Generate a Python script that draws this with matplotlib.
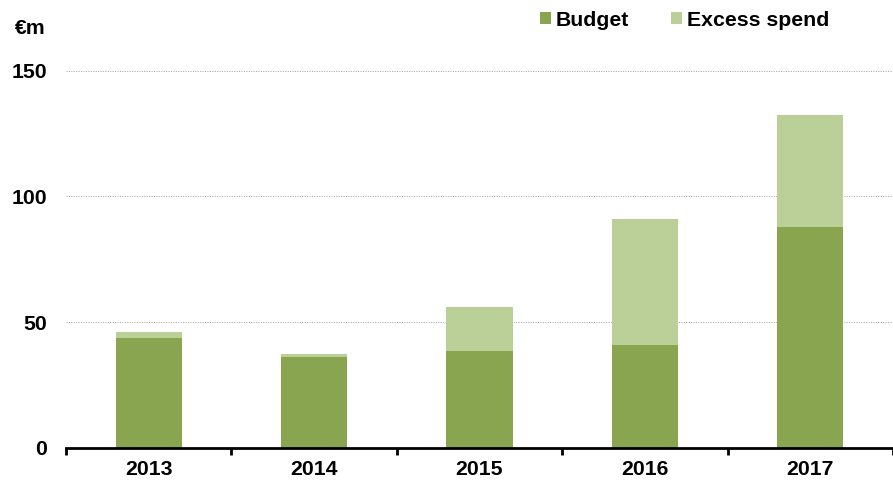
import matplotlib
matplotlib.use("Agg")
import matplotlib.pyplot as plt
import numpy as np

years = ["2013", "2014", "2015", "2016", "2017"]
budget = [43.6, 35.9, 38.6, 41.0, 88.0]
excess = [2.5, 1.4, 17.3, 50.1, 44.2]
yticks = [0, 50, 100, 150]

c_budget = "#8aa54f"
c_excess = "#bbcf98"

plt.rcParams["font.family"] = ["Liberation Sans", "DejaVu Sans"]
plt.rcParams["font.weight"] = "bold"
FS = 15.3

fig = plt.figure(figsize=(8.93, 4.86), dpi=100)
ax = fig.add_axes([66/893, 1-447.7/486, 1-66/893, (447.7-70.7)/486])

x = np.arange(len(years))
ax.bar(x, budget, width=0.4, color=c_budget, label="Budget", zorder=3)
ax.bar(x, excess, width=0.4, bottom=budget, color=c_excess, label="Excess spend", zorder=3)

ax.set_xlim(-0.5, len(years) - 0.5)
ax.set_ylim(0, 150)
ax.set_yticks(yticks)
ax.set_yticklabels([str(v) for v in yticks], fontsize=FS, fontweight="bold")
ax.tick_params(axis="y", length=0, pad=13.7)
ax.set_xticks(x)
ax.set_xticklabels(years, fontsize=FS, fontweight="bold")
ax.set_xticks(np.arange(-0.5, len(years), 1.0), minor=True)
ax.tick_params(axis="x", which="major", length=0, pad=9)
ax.tick_params(axis="x", which="minor", length=5, width=2, direction="out")

for s in ["top", "right", "left"]:
    ax.spines[s].set_visible(False)
ax.spines["bottom"].set_linewidth(2)
ax.spines["bottom"].set_zorder(4)
ax.yaxis.grid(True, linestyle=(0, (1, 1.5)), color="#a0a0a0", linewidth=0.7, zorder=0)
ax.set_axisbelow(True)

fig.text(15/893, 1-28/486, "€m", fontsize=FS, fontweight="bold", va="center", ha="left")

fig.legend(loc="center", bbox_to_anchor=(684.5/893, 1-20/486), ncol=2, frameon=False,
           handlelength=0.52, handleheight=0.52, handletextpad=0.25, columnspacing=1.95,
           prop={"size": FS, "weight": "bold"})

fig.savefig("out.png", dpi=100)
